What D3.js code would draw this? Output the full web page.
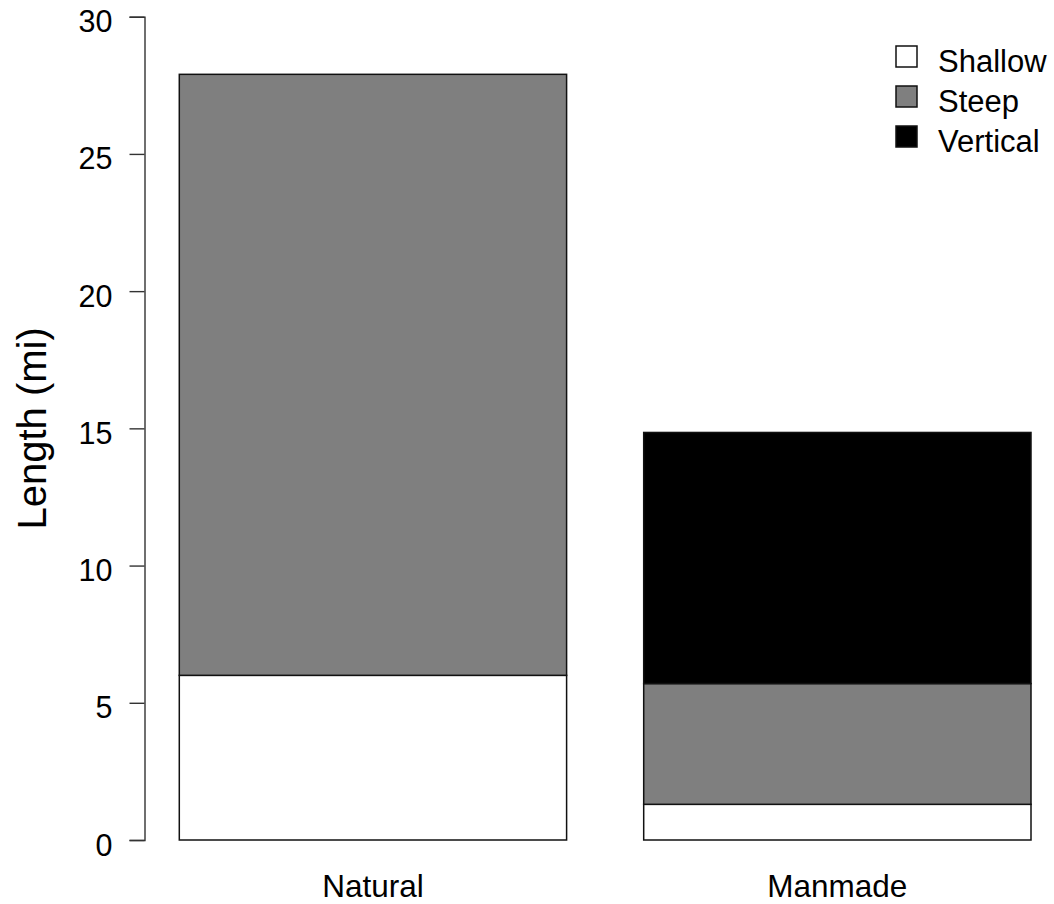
<!DOCTYPE html>
<html>
<head>
<meta charset="utf-8">
<script src="https://cdn.jsdelivr.net/npm/d3@7"></script>
<style>
  body { margin: 0; background: #fff; }
  text { font-family: "Liberation Sans", Arial, sans-serif; fill: #000; }
</style>
</head>
<body>
<div id="chart"></div>
<script>
// Data (miles)
var categories = ["Natural", "Manmade"];
var series = ["Shallow", "Steep", "Vertical"];
var shallow = [6.0, 1.3];
var steep = [21.9, 4.4];
var vertical = [0.0, 9.15];
var yTicks = [0, 5, 10, 15, 20, 25, 30];
var colors = ["#ffffff", "#7f7f7f", "#000000"];

var W = 1054, H = 904;

var svg = d3.select("#chart")
  .append("svg")
    .attr("width", W)
    .attr("height", H);

// Scales
var y = d3.scaleLinear()
  .domain([0, 30])
  .range([840, 16.7]);

var x = d3.scaleBand()
  .domain(categories)
  .range([179.3, 1031])
  .paddingInner(0.166)
  .paddingOuter(0);

// Stack the three series
var rows = categories.map(function (c, i) {
  return { cat: c, Shallow: shallow[i], Steep: steep[i], Vertical: vertical[i] };
});
var stacked = d3.stack().keys(series)(rows);

// Bars
svg.append("g")
  .selectAll("g")
  .data(stacked)
  .enter()
  .append("g")
    .attr("fill", (d, i) => colors[i])
  .selectAll("rect")
  .data(d => d.filter(s => s[1] - s[0] > 0))
  .enter()
  .append("rect")
    .attr("x", d => x(d.data.cat))
    .attr("y", d => y(d[1]))
    .attr("width", x.bandwidth())
    .attr("height", d => y(d[0]) - y(d[1]))
    .attr("stroke", "#111")
    .attr("stroke-width", 1.5);

// Y axis
var yAxis = svg.append("g")
  .attr("transform", "translate(144.5,0)")
  .call(d3.axisLeft(y).tickValues(yTicks).tickSize(15).tickPadding(17));

yAxis.select(".domain")
  .attr("stroke", "#333")
  .attr("stroke-width", 1.4);
yAxis.selectAll(".tick line")
  .attr("stroke", "#333")
  .attr("stroke-width", 1.4);
yAxis.selectAll(".tick text")
  .attr("dy", "15")
  .style("font-family", "'Liberation Sans', Arial, sans-serif")
  .style("font-size", "30.5px")
  .attr("fill", "#000");

// Category labels
svg.append("g")
  .selectAll("text")
  .data(categories)
  .enter()
  .append("text")
    .attr("x", d => x(d) + x.bandwidth() / 2)
    .attr("y", 897)
    .attr("text-anchor", "middle")
    .style("font-size", "31.5px")
    .text(d => d);

// Y axis title
svg.append("text")
  .attr("transform", "translate(46," + ((y(0) + y(30)) / 2) + ") rotate(-90)")
  .attr("text-anchor", "middle")
  .style("font-size", "40px")
  .text("Length (mi)");

// Legend
var legend = svg.append("g")
  .attr("transform", "translate(896,46)");

var item = legend.selectAll("g")
  .data(series)
  .enter()
  .append("g")
    .attr("transform", (d, i) => "translate(0," + (i * 40) + ")");

item.append("rect")
  .attr("width", 21)
  .attr("height", 21)
  .attr("fill", (d, i) => colors[i])
  .attr("stroke", "#111")
  .attr("stroke-width", 1.5);

item.append("text")
  .attr("x", 42)
  .attr("y", 26)
  .style("font-size", "31px")
  .text(d => d);
</script>
</body>
</html>
